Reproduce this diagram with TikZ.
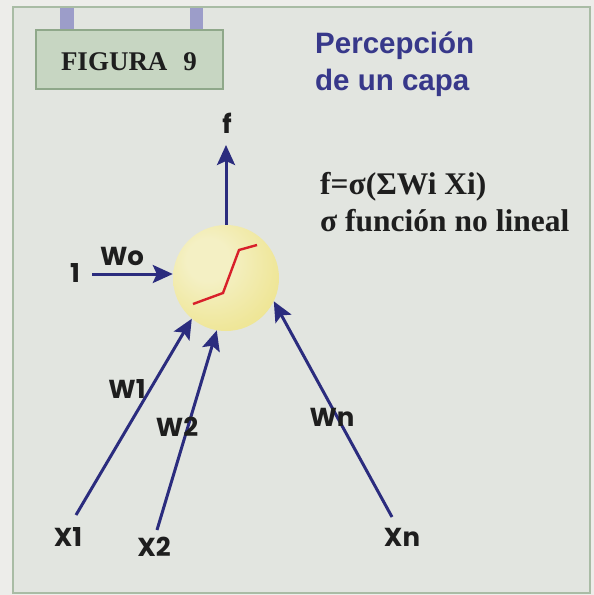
\documentclass[tikz,border=0pt]{standalone}
\usepackage{fontspec}
\setmainfont{Liberation Serif}
\newfontfamily\labfont{Poppins}
\newfontfamily\titfont{Liberation Sans}
\usetikzlibrary{arrows.meta}
\definecolor{pagebg}{HTML}{EDEDEA}
\definecolor{panelbg}{HTML}{E2E5E0}
\definecolor{panelline}{HTML}{A9BCA5}
\definecolor{boxbg}{HTML}{C7D6C2}
\definecolor{boxline}{HTML}{8FA88A}
\definecolor{tabcol}{HTML}{9C9DC9}
\definecolor{titcol}{HTML}{37388A}
\definecolor{arrcol}{HTML}{2B2C7E}
\definecolor{txtcol}{HTML}{1E1E1E}
\definecolor{ballin}{HTML}{F4F0C4}
\definecolor{ballout}{HTML}{E8D95E}
\definecolor{sigred}{HTML}{D8202A}
\pgfdeclareradialshading{myball}{\pgfpoint{-10bp}{10bp}}{color(0bp)=(ballin); color(10bp)=(ballin); color(58bp)=(ballout); color(70bp)=(ballout)}
\tikzset{
  lab/.style={font=\labfont\bfseries\fontsize{26}{26}\selectfont, text=txtcol, inner sep=2pt},
  conn/.style={draw=arrcol, line width=3pt, -{Stealth[length=20pt,width=18pt,inset=4pt]}},
  neuron/.style={circle, minimum size=106pt, inner sep=0pt, shading=myball},
}
\begin{document}
\begin{tikzpicture}[x=1pt,y=-1pt]
\useasboundingbox (0,0) rectangle (594,595);
\fill[pagebg] (0,0) rectangle (594,595);
\filldraw[fill=panelbg, draw=panelline, line width=1.5pt] (13,7) rectangle (590,593);
\fill[tabcol] (60,8) rectangle (74,30);
\fill[tabcol] (190,8) rectangle (203,30);
\filldraw[fill=boxbg, draw=boxline, line width=1.5pt] (36,30) rectangle (223,89);
\node[anchor=base, text=txtcol, font=\bfseries\fontsize{27}{27}\selectfont, inner sep=0pt] (fig) at (129,70) {FIGURA\hspace{16pt}9};
\node[anchor=base west, text=titcol, font=\titfont\bfseries\fontsize{29.5}{29.5}\selectfont, inner sep=0pt] (t1) at (315,53) {Percepción};
\node[anchor=base west, text=titcol, font=\titfont\bfseries\fontsize{29.5}{29.5}\selectfont, inner sep=0pt] (t2) at (315,90) {de un capa};
\node[anchor=base west, text=txtcol, font=\bfseries\fontsize{31.5}{31.5}\selectfont, inner sep=0pt] (e1) at (320,194) {f=σ(ΣWi Xi)};
\node[anchor=base west, text=txtcol, font=\bfseries\fontsize{31.5}{31.5}\selectfont, inner sep=0pt] (e2) at (320,231) {σ función no lineal};

\node[neuron] (n) at (226,278) {};
\draw[sigred, line width=2.4pt] (193,304) -- (223,293) -- (239,250) -- (257,245);

\node[lab] (f) at (227,123) {f};
\coordinate (fo) at (226,145);
\draw[conn] (n.north) -- (fo);

\node[lab] (one) at (75,273) {1};
\coordinate (ins) at (92,274);
\draw[conn] (ins) -- (ins -| n.west);
\node[lab] (wo) at (122,256) {Wo};

\coordinate (s1) at (76,515);
\coordinate (s2) at (157,530);
\coordinate (sn) at (392,517);
\draw[conn] (s1) -- (n.230);
\draw[conn] (s2) -- (n.260);
\draw[conn] (sn) -- (n.-26);

\node[lab] (w1) at (127,389) {W1};
\node[lab] (w2) at (177,427) {W2};
\node[lab] (wn) at (332,417) {Wn};
\node[lab] (x1) at (68,537) {X1};
\node[lab] (x2) at (154,547) {X2};
\node[lab] (xn) at (402,537) {Xn};
\end{tikzpicture}
\end{document}
